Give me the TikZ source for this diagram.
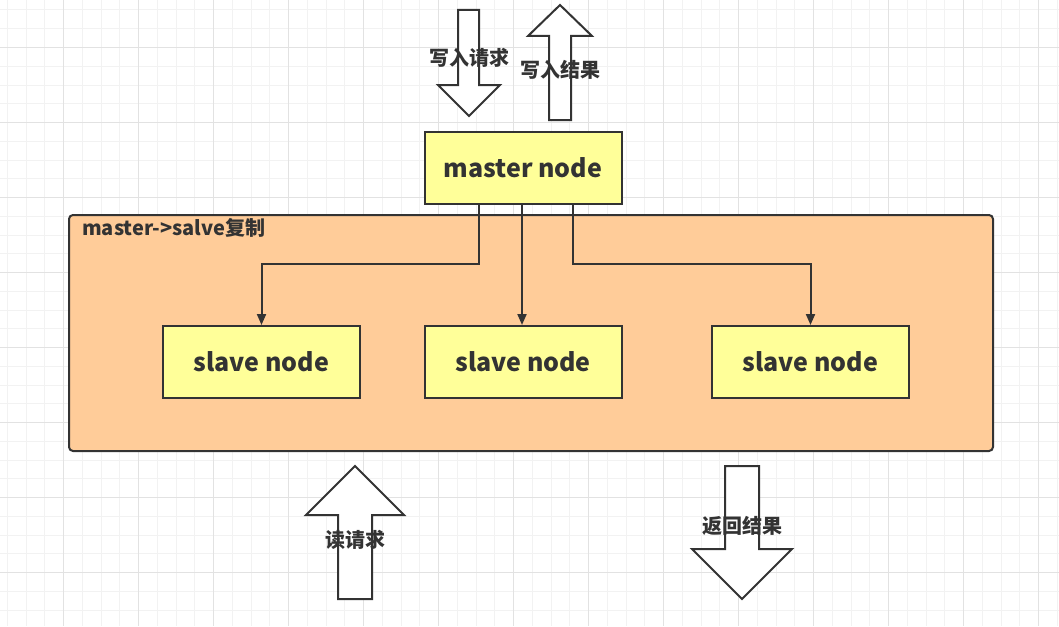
\documentclass[tikz,border=0pt]{standalone}
\usepackage{fontspec}
\setmainfont{Noto Sans CJK SC}
\usetikzlibrary{arrows.meta}
\definecolor{ink}{HTML}{333333}
\definecolor{gridminor}{HTML}{F2F2F2}
\definecolor{gridmajor}{HTML}{E2E2E2}
\definecolor{boxyellow}{HTML}{FFFF99}
\definecolor{boxorange}{HTML}{FFCC99}
\tikzset{
  nodebox/.style={draw=ink, line width=2pt, fill=boxyellow, minimum width=197pt, minimum height=72pt, inner sep=0pt, font=\bfseries\fontsize{25}{28}\selectfont, text=ink},
  conn/.style={draw=ink, line width=2pt, -{Triangle[length=11pt,width=9pt]}},
  bigarrow/.style={draw=ink, line width=2pt, fill=white, line join=miter},
  lbl/.style={font=\bfseries\fontsize{20}{23}\selectfont, text=ink, inner sep=0pt},
}
\begin{document}
\begin{tikzpicture}[x=1pt,y=-1pt]
\useasboundingbox (0,0) rectangle (1059,626);
\fill[white] (0,0) rectangle (1059,626);
% grid
\foreach \i in {0,...,56} {
  \draw[gridminor, line width=1pt] ({7.3+18.75*\i},0) -- ({7.3+18.75*\i},626);
}
\foreach \i in {0,...,33} {
  \draw[gridminor, line width=1pt] (0,{10+18.75*\i}) -- (1059,{10+18.75*\i});
}
\foreach \i in {0,...,14} {
  \draw[gridmajor, line width=1pt] ({63.3+75*\i},0) -- ({63.3+75*\i},626);
}
\foreach \i in {0,...,8} {
  \draw[gridmajor, line width=1pt] (0,{47.5+75*\i}) -- (1059,{47.5+75*\i});
}
% container
\node[draw=ink, line width=2pt, fill=boxorange, rounded corners=4pt, minimum width=924pt, minimum height=236pt, inner sep=0pt] (group) at (531,333) {};
\node[lbl, anchor=west, font=\bfseries\fontsize{20}{23}\selectfont] (grouplbl) at (82,228) {master->salve复制};
% nodes
\node[nodebox] (master) at (523,168) {master node};
\node[nodebox] (s1) at (261.5,362) {slave node};
\node[nodebox] (s2) at (523,362) {slave node};
\node[nodebox] (s3) at (810.5,362) {slave node};
% connectors
\draw[conn] ([xshift=-44pt]master.south) |- ([yshift=61pt]s1.north) -- (s1.north);
\draw[conn] ([xshift=-1pt]master.south) -- ([xshift=-1pt]s2.north);
\draw[conn] ([xshift=50pt]master.south) |- ([yshift=61pt]s3.north) -- (s3.north);
% big arrows
\draw[bigarrow] (458,10) -- (479,10) -- (479,85) -- (500,85) -- (469,116) -- (438,85) -- (458,85) -- cycle;
\node[lbl] (wreq) at (469,58) {写入请求};
\draw[bigarrow] (549,120) -- (571,120) -- (571,36) -- (592,36) -- (560,5) -- (528,36) -- (549,36) -- cycle;
\node[lbl] (wres) at (560,70) {写入结果};
\draw[bigarrow] (338,599) -- (372,599) -- (372,515) -- (404,515) -- (355,466) -- (306,515) -- (338,515) -- cycle;
\node[lbl] (rreq) at (355,540) {读请求};
\draw[bigarrow] (725,466) -- (759,466) -- (759,549) -- (792,549) -- (742,599) -- (692,549) -- (725,549) -- cycle;
\node[lbl] (rres) at (742,526) {返回结果};
\end{tikzpicture}
\end{document}
